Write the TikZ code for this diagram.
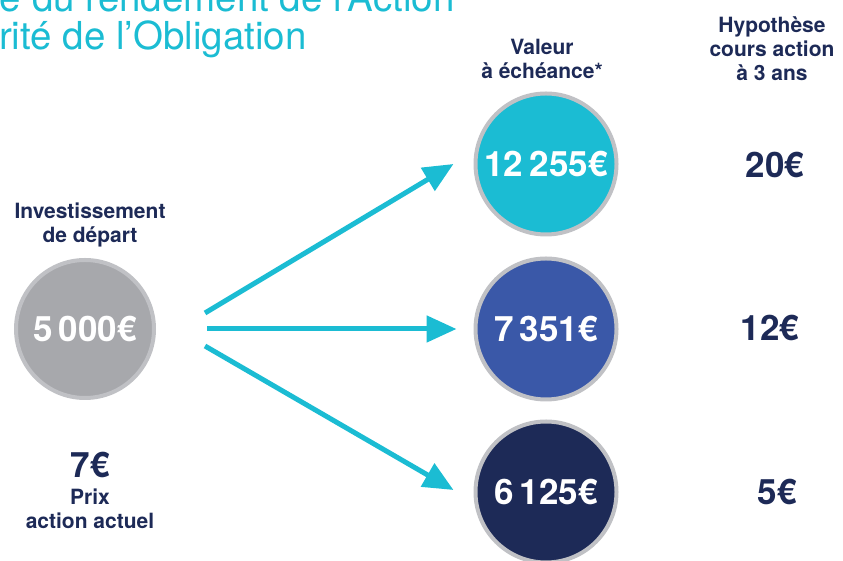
\documentclass[tikz,border=0pt]{standalone}
\usepackage{fontspec}
\setmainfont{TeX Gyre Heros}
\usetikzlibrary{arrows.meta}
\definecolor{cyanval}{HTML}{1BBCD3}
\definecolor{blueval}{HTML}{3A58A8}
\definecolor{navyval}{HTML}{1D2A57}
\definecolor{grayval}{HTML}{A7A8AC}
\definecolor{ringgray}{HTML}{C0C1C5}

\begin{document}
\begin{tikzpicture}[x=1pt,y=1pt]
  \useasboundingbox (0,0) rectangle (843,561);
  \tikzstyle{Value}=[circle,draw=ringgray,line width=4pt,minimum size=141pt,inner sep=0pt,
                     text=white,font=\fontsize{35}{37}\selectfont\bfseries]
  \tikzstyle{Label}=[align=center,text=navyval,font=\fontsize{21}{24}\selectfont\bfseries]
  \tikzstyle{Price}=[text=navyval,font=\fontsize{35}{37}\selectfont\bfseries]
  \tikzstyle{Fleche}=[cyanval,line width=5pt,-{Triangle[length=30pt,width=26pt]}]

  % title (cut by the page)
  \node [anchor=base east,text=cyanval,font=\fontsize{38.5}{40}\selectfont] (titleA) at (458,549) {e du rendement de l'Action};
  \node [anchor=base east,text=cyanval,font=\fontsize{38.5}{40}\selectfont] (titleB) at (310,511) {rité de l'Obligation};

  % circles
  \node [Value,fill=grayval,minimum size=138pt] (depart) at (85,232) {5\hspace{0.18em}000€};
  \node [Value,fill=cyanval] (haut) at (546,397) {12\hspace{0.18em}255€};
  \node [Value,fill=blueval] (milieu) at (546,232) {7\hspace{0.18em}351€};
  \node [Value,fill=navyval] (bas) at (546,69) {6\hspace{0.18em}125€};

  % arrows
  \draw [Fleche] ([shift={(49,16)}]depart.east) -- ([xshift=-20]haut.west);
  \draw [Fleche] ([xshift=51]depart.east) -- ([xshift=-17]milieu.west);
  \draw [Fleche] ([shift={(49,-17)}]depart.east) -- ([shift={(-20,2)}]bas.west);

  % labels
  \node [Label] (invest) at (90,336) {Investissement\\de départ};
  \node [Price] (prix) at (90,96) {7€};
  \node [Label] (prixlbl) at (90,52) {Prix\\action actuel};
  \node [Label] (valeur) at (542,502) {Valeur\\à échéance*};
  \node [Label] (hypo) at (772,512) {Hypothèse\\cours action\\à 3 ans};

  \node [Price] (c20) at (775,396) {20€};
  \node [Price] (c12) at (770,233) {12€};
  \node [Price] (c5) at (777,69) {5€};

\end{tikzpicture}
\end{document}
